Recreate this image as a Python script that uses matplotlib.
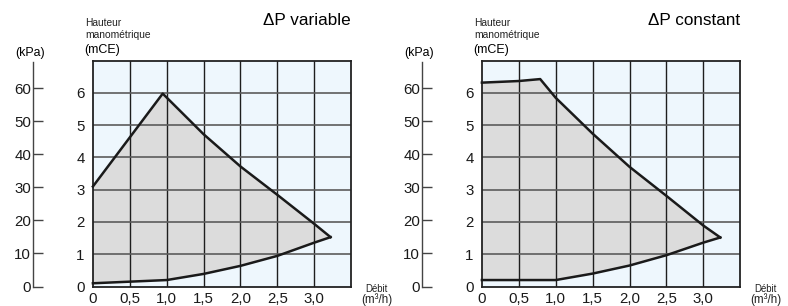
import numpy as np
import matplotlib
matplotlib.use('Agg')
import matplotlib.pyplot as plt

plt.rcParams['font.family'] = ['Liberation Sans', 'DejaVu Sans']

# debit (m3/h) / hauteur (mCE)
var_top_x = [0.0, 0.946, 1.5, 2.0, 2.5, 3.0, 3.22]
var_top_y = [3.1, 5.98, 4.72, 3.72, 2.84, 1.94, 1.53]
var_low_x = [0.0, 1.0, 1.5, 2.0, 2.5, 3.0, 3.22]
var_low_y = [0.1, 0.2, 0.39, 0.64, 0.95, 1.36, 1.53]

cst_top_x = [0.0, 0.5, 0.79, 1.0, 1.5, 2.0, 2.5, 3.0, 3.23]
cst_top_y = [6.32, 6.37, 6.43, 5.85, 4.74, 3.71, 2.81, 1.89, 1.52]
cst_low_x = [0.0, 1.0, 1.5, 2.0, 2.5, 3.0, 3.23]
cst_low_y = [0.2, 0.2, 0.4, 0.65, 0.97, 1.36, 1.52]

x_ticks = [0, 0.5, 1.0, 1.5, 2.0, 2.5, 3.0]
x_labels = ['0', '0,5', '1,0', '1,5', '2,0', '2,5', '3,0']
mce_ticks = [0, 1, 2, 3, 4, 5, 6]
kpa_ticks = [0, 10, 20, 30, 40, 50, 60]
titles = ['\u0394P variable', '\u0394P constant']

W, H = 788, 306
fig = plt.figure(figsize=(W / 100, H / 100), dpi=100)


def px_box(x0, y_top, x1, y_bot):
    return [x0 / W, 1 - y_bot / H, (x1 - x0) / W, (y_bot - y_top) / H]


def panel(off, title, tx, ty, lx, ly):
    ax = fig.add_axes(px_box(92.9 + off, 60.7, 351.2 + off, 286.5))
    ax.set_xlim(0, 3.5)
    ax.set_ylim(0, 7)
    ax.set_facecolor('#eef7fd')

    # grey zone between the two curves
    poly_x = list(tx) + list(lx)[::-1]
    poly_y = list(ty) + list(ly)[::-1]
    ax.fill(poly_x, poly_y, color='#dcdcdc', lw=0, zorder=1)

    for v in np.arange(0.5, 3.5, 0.5):
        ax.axvline(v, color='#1e1e1e', lw=1.0, zorder=2)
    for h in range(1, 7):
        ax.axhline(h, color='#5c5c5c', lw=1.2, zorder=2)

    ax.plot(tx, ty, color='#1a1a1a', lw=1.8, zorder=3, clip_on=False)
    ax.plot(lx, ly, color='#1a1a1a', lw=1.8, zorder=3, clip_on=False)

    for s in ax.spines.values():
        s.set_color('#222222')
        s.set_linewidth(1.3)
    ax.set_xticks(x_ticks)
    ax.set_xticklabels(x_labels)
    ax.set_yticks(mce_ticks)
    ax.tick_params(length=0, labelsize=10.8, pad=6, labelcolor='#1a1a1a')
    ax.tick_params(axis='x', pad=4)

    # kPa scale on its own spine (1 mCE = 9.81 kPa)
    k = fig.add_axes(px_box(32.5 + off, 62, 33.5 + off, 286.5))
    k.set_ylim(0, 68.0)
    k.patch.set_visible(False)
    for name in ['top', 'right', 'bottom']:
        k.spines[name].set_visible(False)
    k.spines['left'].set_color('#444444')
    k.spines['left'].set_linewidth(1.0)
    k.set_xticks([])
    k.set_yticks(kpa_ticks)
    k.tick_params(axis='y', direction='in', length=7.5, width=1.0, color='#444444',
                  labelsize=10.8, pad=1, labelcolor='#1a1a1a')

    fig.text((30 + off) / W, 1 - 53 / H, '(kPa)', fontsize=8.9, ha='center', va='center')
    fig.text((85 + off) / W, 1 - 22.5 / H, 'Hauteur', fontsize=7.4, ha='left', va='center', color='#222222')
    fig.text((85 + off) / W, 1 - 35.5 / H, 'manom\u00e9trique', fontsize=7.4, ha='left', va='center', color='#222222')
    fig.text((84 + off) / W, 1 - 49.5 / H, '(mCE)', fontsize=9, ha='left', va='center')
    fig.text((351 + off) / W, 1 - 20.5 / H, title, fontsize=12.3, ha='right', va='center')
    fig.text((376.5 + off) / W, 1 - 289.5 / H, 'D\u00e9bit', fontsize=6.9, ha='center', va='center', color='#222222')
    fig.text((376.5 + off) / W, 1 - 300 / H, '(m\u00b3/h)', fontsize=8.4, ha='center', va='center', color='#222222')
    return ax


panel(0, titles[0], var_top_x, var_top_y, var_low_x, var_low_y)
panel(389, titles[1], cst_top_x, cst_top_y, cst_low_x, cst_low_y)

fig.savefig('out.png', dpi=100)
